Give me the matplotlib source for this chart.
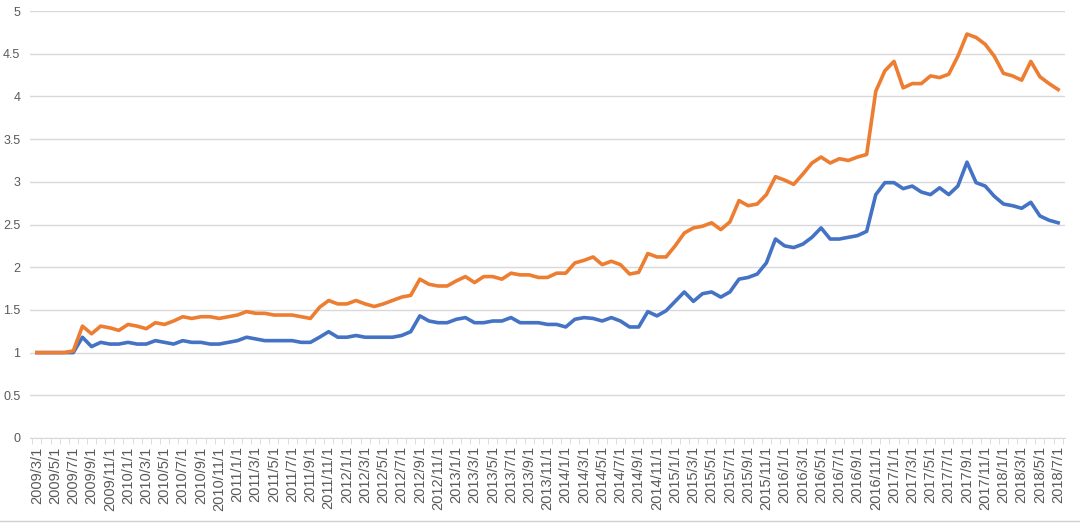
import matplotlib.pyplot as plt
import numpy as np
import pandas as pd
from matplotlib.lines import Line2D

plt.rcParams["font.family"] = ["Liberation Sans", "DejaVu Sans"]

# monthly categories 2009/3/1 .. 2018/7/1
months = pd.date_range("2009-03-01", "2018-07-01", freq="MS")
month_labels = [f"{d.year}/{d.month}/1" for d in months]

orange_series = [
    1.00, 1.00, 1.00, 1.00, 1.02, 1.31, 1.22, 1.31, 1.29, 1.26,
    1.33, 1.31, 1.28, 1.35, 1.33, 1.37, 1.42, 1.40, 1.42, 1.42,
    1.40, 1.42, 1.44, 1.48, 1.46, 1.46, 1.44, 1.44, 1.44, 1.42,
    1.40, 1.53, 1.61, 1.57, 1.57, 1.61, 1.57, 1.54, 1.57, 1.61,
    1.65, 1.67, 1.86, 1.80, 1.78, 1.78, 1.84, 1.89, 1.82, 1.89,
    1.89, 1.86, 1.93, 1.91, 1.91, 1.88, 1.88, 1.93, 1.93, 2.05,
    2.08, 2.12, 2.03, 2.07, 2.03, 1.92, 1.94, 2.16, 2.12, 2.12,
    2.25, 2.40, 2.46, 2.48, 2.52, 2.44, 2.53, 2.78, 2.72, 2.74,
    2.85, 3.06, 3.02, 2.97, 3.09, 3.22, 3.29, 3.22, 3.27, 3.25,
    3.29, 3.32, 4.06, 4.30, 4.41, 4.10, 4.15, 4.15, 4.24, 4.22,
    4.26, 4.47, 4.73, 4.69, 4.61, 4.47, 4.27, 4.24, 4.19, 4.41,
    4.23, 4.15, 4.08,
]

blue_series = [
    1.00, 1.00, 1.00, 1.00, 1.00, 1.18, 1.07, 1.12, 1.10, 1.10,
    1.12, 1.10, 1.10, 1.14, 1.12, 1.10, 1.14, 1.12, 1.12, 1.10,
    1.10, 1.12, 1.14, 1.18, 1.16, 1.14, 1.14, 1.14, 1.14, 1.12,
    1.12, 1.18, 1.245, 1.18, 1.18, 1.20, 1.18, 1.18, 1.18, 1.18,
    1.20, 1.245, 1.43, 1.37, 1.35, 1.35, 1.39, 1.41, 1.35, 1.35,
    1.37, 1.37, 1.41, 1.35, 1.35, 1.35, 1.33, 1.33, 1.30, 1.39,
    1.41, 1.40, 1.37, 1.41, 1.37, 1.30, 1.30, 1.48, 1.43, 1.49,
    1.60, 1.71, 1.60, 1.69, 1.71, 1.65, 1.71, 1.86, 1.88, 1.92,
    2.05, 2.33, 2.25, 2.23, 2.27, 2.35, 2.46, 2.33, 2.33, 2.35,
    2.37, 2.42, 2.85, 2.99, 2.99, 2.92, 2.95, 2.88, 2.85, 2.93,
    2.85, 2.95, 3.23, 2.99, 2.95, 2.83, 2.74, 2.72, 2.69, 2.76,
    2.60, 2.55, 2.52,
]

y_ticks = [0, 0.5, 1, 1.5, 2, 2.5, 3, 3.5, 4, 4.5, 5]
y_tick_labels = ["0", "0.5", "1", "1.5", "2", "2.5", "3", "3.5", "4", "4.5", "5"]


def main():
    fig = plt.figure(figsize=(10.8, 5.26), dpi=100)
    ax = fig.add_axes([30 / 1080, 1 - 438 / 526, 1035 / 1080, 427 / 526])

    x = np.arange(len(months))
    ax.plot(x, blue_series, color="#4472C4", linewidth=2.6, solid_joinstyle="round")
    ax.plot(x, orange_series, color="#ED7D31", linewidth=2.6, solid_joinstyle="round")

    ax.set_xlim(-0.75, len(months) - 0.25)
    ax.set_ylim(0, 5)

    ax.set_yticks(y_ticks)
    ax.set_yticklabels(y_tick_labels)
    ax.grid(axis="y", color="#d9d9d9", linewidth=1)
    ax.set_axisbelow(True)

    ax.set_xticks(x[::2])
    ax.set_xticklabels(month_labels[::2], rotation=90)
    ax.set_xticks(np.arange(len(months) + 1) - 0.5, minor=True)
    ax.tick_params(axis="x", which="major", length=0, pad=6,
                   labelsize=10.5, labelcolor="#595959")
    ax.tick_params(axis="x", which="minor", length=4, color="#d9d9d9")
    ax.tick_params(axis="y", length=0, pad=7, labelsize=9, labelcolor="#595959")

    for side in ["top", "right", "left"]:
        ax.spines[side].set_visible(False)
    ax.spines["bottom"].set_color("#d9d9d9")

    # chart frame edge at the bottom of the screenshot
    fig.add_artist(Line2D([0, 1], [5 / 526, 5 / 526], color="#d0d0d0",
                          linewidth=1, transform=fig.transFigure))

    fig.savefig("out.png", dpi=100, facecolor="white")


if __name__ == "__main__":
    main()
